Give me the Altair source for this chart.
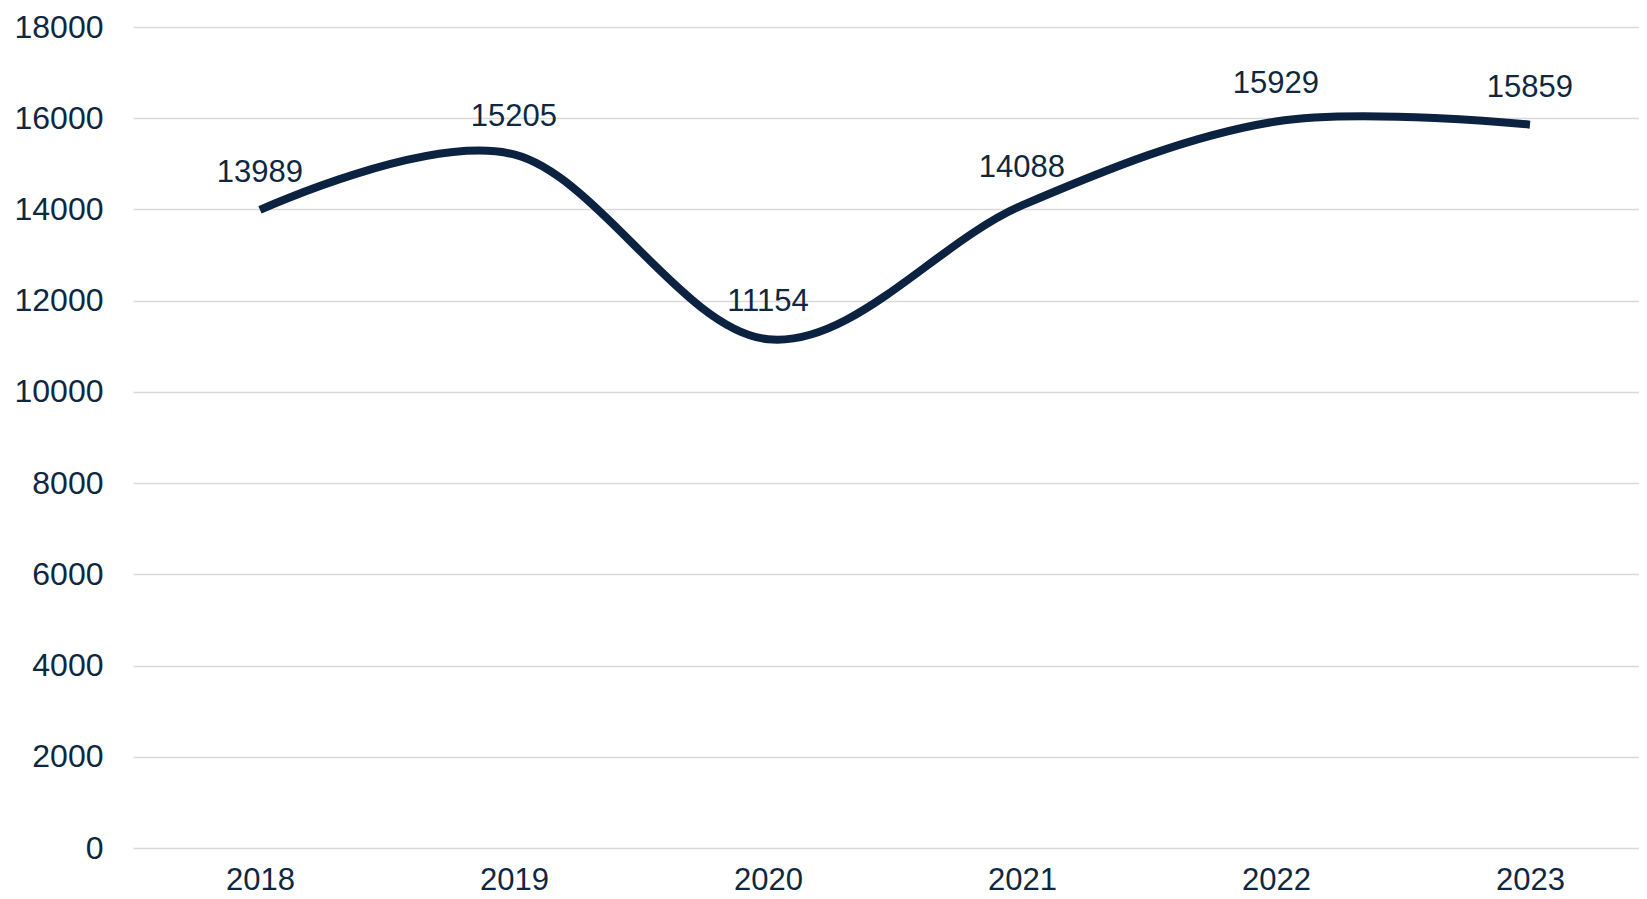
import altair as alt
import pandas as pd

years = ["2018", "2019", "2020", "2021", "2022", "2023"]
values = [13989, 15205, 11154, 14088, 15929, 15859]
y_ticks = [0, 2000, 4000, 6000, 8000, 10000, 12000, 14000, 16000, 18000]

df = pd.DataFrame({"year": years, "value": values})

TEXT = "#0e2841"
LINE = "#0b2240"
FONT = "Liberation Sans"

x_enc = alt.X(
    "year:O",
    sort=years,
    scale=alt.Scale(type="point", padding=0.4646, align=0.538),
    axis=alt.Axis(
        title=None, labelAngle=0, ticks=False, tickSize=0, domain=False,
        grid=False, labelFontSize=31, labelColor=TEXT, labelFont=FONT,
        labelPadding=17, labelBaseline="top",
    ),
)
y_enc = alt.Y(
    "value:Q",
    scale=alt.Scale(domain=[0, 18000], nice=False, zero=True),
    axis=alt.Axis(
        title=None, values=y_ticks, ticks=False, tickSize=0, domain=False,
        grid=True, gridColor="#d9d9d9", gridWidth=1.6,
        labelFontSize=32, labelColor=TEXT, labelFont=FONT, labelPadding=30,
        format="d",
    ),
)

line = alt.Chart(df).mark_line(
    interpolate="cardinal", strokeWidth=8, color=LINE, strokeCap="butt"
).encode(x=x_enc, y=y_enc)

labels = alt.Chart(df).mark_text(
    dy=-37, fontSize=31, color=TEXT, font=FONT, baseline="middle", align="center"
).encode(x=x_enc, y=y_enc, text=alt.Text("value:Q", format="d"))

chart = (line + labels).properties(
    width=1506,
    height=821,
    autosize=alt.AutoSizeParams(type="none"),
    padding={"left": 125, "top": 19, "right": 0, "bottom": 50},
).configure(background="white").configure_view(stroke=None, strokeWidth=0)

chart.save("out.html", embed_options={"renderer": "svg", "actions": False})
